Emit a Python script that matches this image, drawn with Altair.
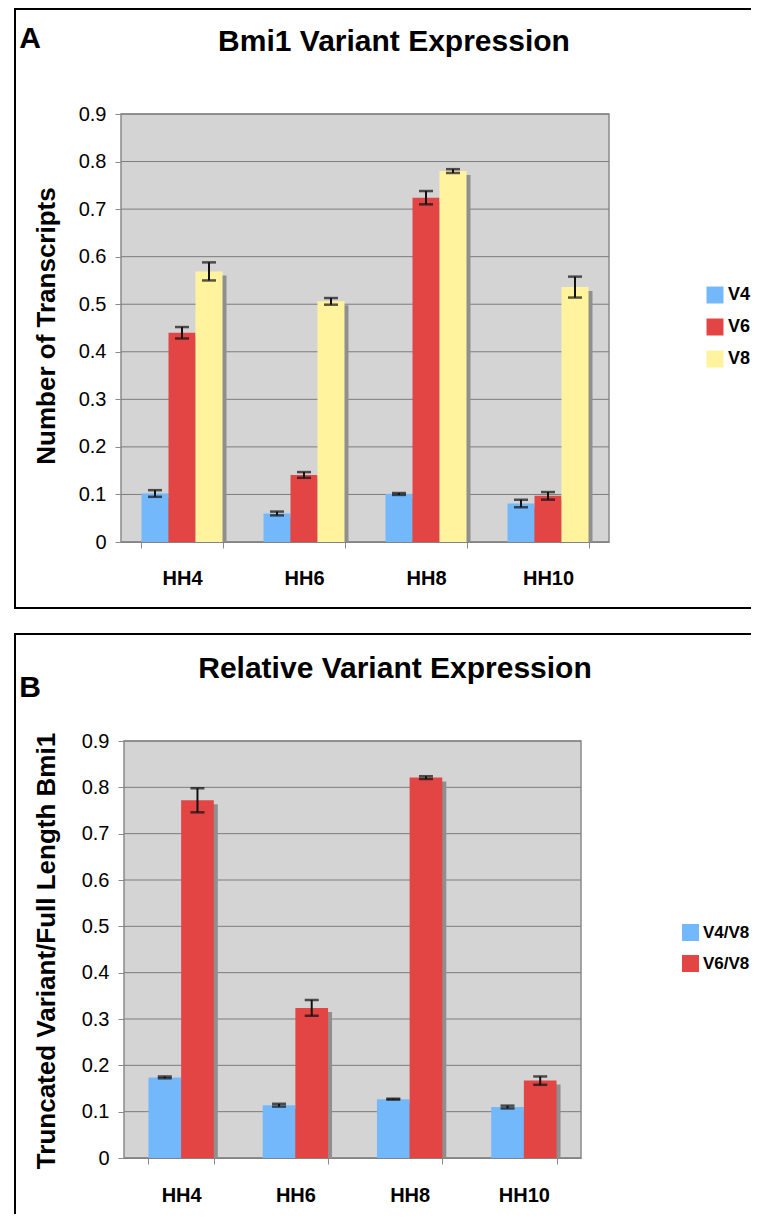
import altair as alt
import pandas as pd

# ---------------- data ----------------
categories = ["HH4", "HH6", "HH8", "HH10"]

series_a = ["V4", "V6", "V8"]
a_v4 = [0.102, 0.060, 0.101, 0.081]
a_v6 = [0.440, 0.141, 0.724, 0.097]
a_v8 = [0.569, 0.506, 0.780, 0.536]
a_v4_err = [0.007, 0.004, 0.002, 0.008]
a_v6_err = [0.012, 0.006, 0.014, 0.008]
a_v8_err = [0.019, 0.007, 0.004, 0.022]

series_b = ["V4/V8", "V6/V8"]
b_r4 = [0.174, 0.114, 0.127, 0.110]
b_r6 = [0.772, 0.324, 0.821, 0.167]
b_r4_err = [0.002, 0.003, 0.001, 0.003]
b_r6_err = [0.026, 0.017, 0.003, 0.009]

y_ticks = [0, 0.1, 0.2, 0.3, 0.4, 0.5, 0.6, 0.7, 0.8, 0.9]

# ---------------- style ----------------
BLUE, RED, YELLOW = "#74b8fc", "#e34545", "#fff39e"
SHADOW = "#8f8f8f"
PANEL_BG = "#d4d4d4"
PANEL_EDGE = "#8a8a8a"
GRID = "#7c7c7c"
FONT = "Liberation Sans"
CANVAS_W, CANVAS_H = 743, 1206


def long_table(series, values, errors):
    rows = []
    for s, vals, errs in zip(series, values, errors):
        for c, v, e in zip(categories, vals, errs):
            rows.append({"stage": c, "series": s, "value": v, "lo": v - e, "hi": v + e})
    return pd.DataFrame(rows)


df_a = long_table(series_a, [a_v4, a_v6, a_v8], [a_v4_err, a_v6_err, a_v8_err])
df_b = long_table(series_b, [b_r4, b_r6], [b_r4_err, b_r6_err])
df_ticks = pd.DataFrame({"tick": y_ticks})
one = pd.DataFrame({"k": [0]})


def text_layer(txt, x, y, size, angle=0, baseline="alphabetic"):
    kw = dict(font=FONT, fontSize=size, fontWeight="bold", color="black",
              align="center", baseline=baseline)
    if angle:
        kw["angle"] = angle
    return alt.Chart(pd.DataFrame({"t": [txt]})).mark_text(**kw).encode(
        text="t:N", x=alt.value(x), y=alt.value(y))


def vrule(x, y, y2):
    return alt.Chart(one).mark_rule(color="black", strokeWidth=2).encode(
        x=alt.value(x), y=alt.value(y), y2=alt.value(y2))


def hrule(x, x2, y):
    return alt.Chart(one).mark_rule(color="black", strokeWidth=2).encode(
        x=alt.value(x), x2=alt.value(x2), y=alt.value(y))


def panel(df, series, colors, frame, pad_inner, label_pad, legend_xy, row_pad, legend_font):
    px0, px1, py0, py1 = frame
    plot_w = px1 - px0
    band_w = plot_w / len(categories) * (1 - pad_inner)

    xs = alt.Scale(domain=categories, range=[px0, px1],
                   paddingInner=pad_inner, paddingOuter=pad_inner / 2)
    ys = alt.Scale(domain=[0, 0.9], range=[py1, py0], nice=False, zero=True)

    def xoff(shift=0):
        return alt.XOffset("series:N", sort=series,
                           scale=alt.Scale(domain=series, range=[shift, shift + band_w],
                                           paddingInner=0, paddingOuter=0))

    x_plain = alt.X("stage:N", scale=xs, axis=None)
    x_axis = alt.X("stage:N", scale=xs,
                   axis=alt.Axis(title=None, orient="bottom", offset=-(CANVAS_H - py1),
                                 labelAngle=0, tickBand="extent", labelFont=FONT,
                                 labelFontWeight="bold", labelFontSize=20, labelColor="black",
                                 labelPadding=label_pad, tickSize=6, tickColor=PANEL_EDGE,
                                 domainColor=PANEL_EDGE, grid=False))
    y_plain = alt.Y("value:Q", scale=ys, axis=None)
    y_axis = alt.Y("value:Q", scale=ys,
                   axis=alt.Axis(title=None, orient="left", offset=-px0, values=y_ticks,
                                 format="~g", labelFont=FONT, labelFontSize=20,
                                 labelColor="black", labelPadding=9, tickSize=6,
                                 tickColor=PANEL_EDGE, domainColor=PANEL_EDGE, grid=False))

    bg = alt.Chart(one).mark_rect(fill=PANEL_BG, stroke=PANEL_EDGE, strokeWidth=1.5).encode(
        x=alt.value(px0), x2=alt.value(px1), y=alt.value(py0), y2=alt.value(py1))
    grid = alt.Chart(df_ticks).mark_rule(color=GRID, strokeWidth=1).encode(
        y=alt.Y("tick:Q", scale=ys, axis=None), x=alt.value(px0), x2=alt.value(px1))

    base = alt.Chart(df)
    shadow = base.mark_bar(color=SHADOW, yOffset=4).encode(
        x=x_plain, y=y_plain, y2=alt.Y2(datum=0), xOffset=xoff(4))
    bars = base.mark_bar().encode(
        x=x_axis, y=y_axis, xOffset=xoff(),
        color=alt.Color("series:N", sort=series,
                        scale=alt.Scale(domain=series, range=colors),
                        legend=alt.Legend(title=None, orient="none", legendX=legend_xy[0],
                                          legendY=legend_xy[1], symbolType="square",
                                          symbolSize=289, symbolStrokeWidth=0,
                                          labelFont=FONT, labelFontSize=legend_font,
                                          labelFontWeight="bold", labelColor="black",
                                          rowPadding=row_pad, labelOffset=4, padding=0)))
    err = base.mark_rule(color="#111111", strokeWidth=2).encode(
        x=x_plain, y=alt.Y("lo:Q", scale=ys, axis=None), y2="hi:Q", xOffset=xoff())
    cap_lo = base.mark_tick(color="#111111", size=14, thickness=2.5).encode(
        x=x_plain, y=alt.Y("lo:Q", scale=ys, axis=None), xOffset=xoff())
    cap_hi = base.mark_tick(color="#111111", size=14, thickness=2.5).encode(
        x=x_plain, y=alt.Y("hi:Q", scale=ys, axis=None), xOffset=xoff())
    return [bg, grid, shadow, bars, err, cap_lo, cap_hi]


# canvas coordinates (page minus its 8px margin)
layers_a = panel(df_a, series_a, [BLUE, RED, YELLOW], (113, 601, 106, 534), 0.336, 20,
                 (698, 278), 14, 18)
layers_b = panel(df_b, series_b, [BLUE, RED], (116, 573, 733, 1150), 0.428, 21,
                 (674, 916), 13, 17)

decor = [
    # frame of panel A
    vrule(7, 0, 600), hrule(6, 800, 1), hrule(6, 800, 600),
    # frame of panel B
    vrule(7, 625, 1220), hrule(6, 800, 626),
    # texts
    text_layer("A", 22, 40, 30),
    text_layer("Bmi1 Variant Expression", 386, 43, 30),
    text_layer("Number of Transcripts", 39, 318, 26, angle=270, baseline="middle"),
    text_layer("B", 22, 689, 30),
    text_layer("Relative Variant Expression", 387, 670, 30),
    text_layer("Truncated Variant/Full Length Bmi1", 39, 943, 26, angle=270, baseline="middle"),
]

chart = alt.layer(*layers_a, *layers_b, *decor).resolve_scale(
    x="independent", y="independent", xOffset="independent", color="independent"
).resolve_axis(x="independent", y="independent").resolve_legend(
    color="independent"
).properties(
    width=CANVAS_W, height=CANVAS_H,
    autosize=alt.AutoSizeParams(type="none"), padding=0
).configure(font=FONT).configure_view(strokeWidth=0, fill="white")

chart.save("out.html", embed_options={"renderer": "svg", "actions": False})
